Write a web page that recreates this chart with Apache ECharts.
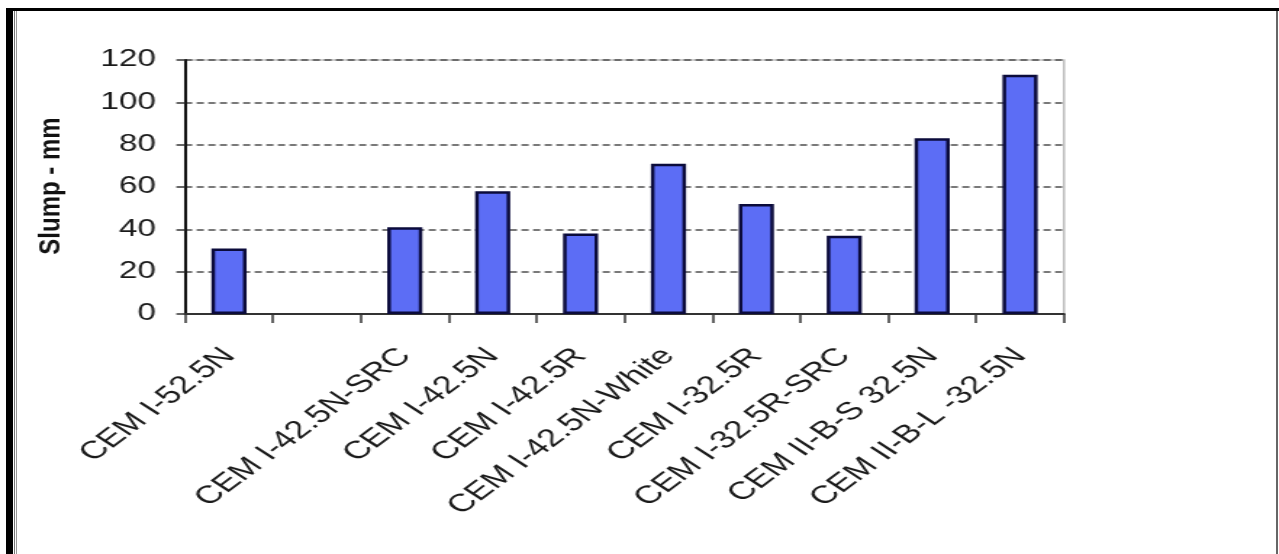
<!DOCTYPE html>
<html>
<head>
<meta charset="utf-8">
<script src="https://cdn.jsdelivr.net/npm/echarts@6/dist/echarts.min.js"></script>
<style>
  html, body { margin: 0; padding: 0; background: #ffffff; width: 1279px; height: 554px; overflow: hidden; }
  #wrap { position: absolute; left: 0; top: 0; width: 1279px; height: 554px; }
  #chart { position: absolute; left: 0; top: 0; width: 882px; height: 554px; transform: scaleX(1.45); transform-origin: 0 0; }
  .fr { position: absolute; }
</style>
</head>
<body>
<div id="wrap">
  <div id="chart"></div>
  <div class="fr" style="left:6px;top:8px;width:7px;height:546px;background:#000;"></div>
  <div class="fr" style="left:14px;top:10px;width:1px;height:544px;background:#777;"></div>
  <div class="fr" style="left:16px;top:10px;width:1px;height:544px;background:#999;"></div>
  <div class="fr" style="left:6px;top:8px;width:1273px;height:3px;background:#000;"></div>
  <div class="fr" style="left:1276px;top:11px;width:2px;height:543px;background:#666;"></div>
</div>
<script>
const categories = ['CEM I-52.5N', '', 'CEM I-42.5N-SRC', 'CEM I-42.5N', 'CEM I-42.5R', 'CEM I-42.5N-White', 'CEM I-32.5R', 'CEM I-32.5R-SRC', 'CEM II-B-S 32.5N', 'CEM II-B-L -32.5N'];
const slumpValues = [31, null, 41, 58, 38, 71, 52, 37, 83, 113];
const yAxisTitle = 'Slump - mm';
const yMin = 0, yMax = 120, yStep = 20;

const K = 1.45;
const FONT = "'Liberation Sans', Arial, sans-serif";
const chart = echarts.init(document.getElementById('chart'), null, { renderer: 'canvas' });
chart.setOption({
  animation: false,
  backgroundColor: 'transparent',
  grid: { left: 127.6, top: 60, width: 606.2, height: 254, show: true, borderColor: '#bdbdbd', borderWidth: 1.5, backgroundColor: 'transparent' },
  xAxis: {
    type: 'category',
    data: categories,
    boundaryGap: true,
    axisLine: { show: true, lineStyle: { color: '#333', width: 2 } },
    axisTick: { show: true, alignWithLabel: false, length: 9, lineStyle: { color: '#333', width: 1.5 } },
    axisLabel: { interval: 0, rotate: 47, margin: 38, fontSize: 25, fontFamily: FONT, color: '#1a1a1a' },
    splitLine: { show: false }
  },
  yAxis: {
    type: 'value',
    min: yMin, max: yMax, interval: yStep,
    axisLine: { show: true, lineStyle: { color: '#111', width: 2 } },
    axisTick: { show: true, length: 6, lineStyle: { color: '#333', width: 1.5 } },
    axisLabel: { margin: 20, fontSize: 23, fontFamily: FONT, color: '#1a1a1a' },
    splitLine: { show: true, lineStyle: { color: '#4d4d4d', width: 1.6, type: [5, 3] } }
  },
  graphic: [{
    type: 'text',
    x: 35.5, y: 186,
    rotation: Math.PI / 2,
    scaleY: 0.85,
    style: { text: yAxisTitle, font: "bold 24px 'Liberation Sans', Arial, sans-serif", fill: '#111', textAlign: 'center', textVerticalAlign: 'middle' }
  }],
  series: [{
    type: 'bar',
    data: slumpValues,
    barWidth: '40%',
    itemStyle: { color: '#5c6df5', borderColor: '#0b0b3b', borderWidth: 2.5 }
  }]
});
</script>
</body>
</html>
